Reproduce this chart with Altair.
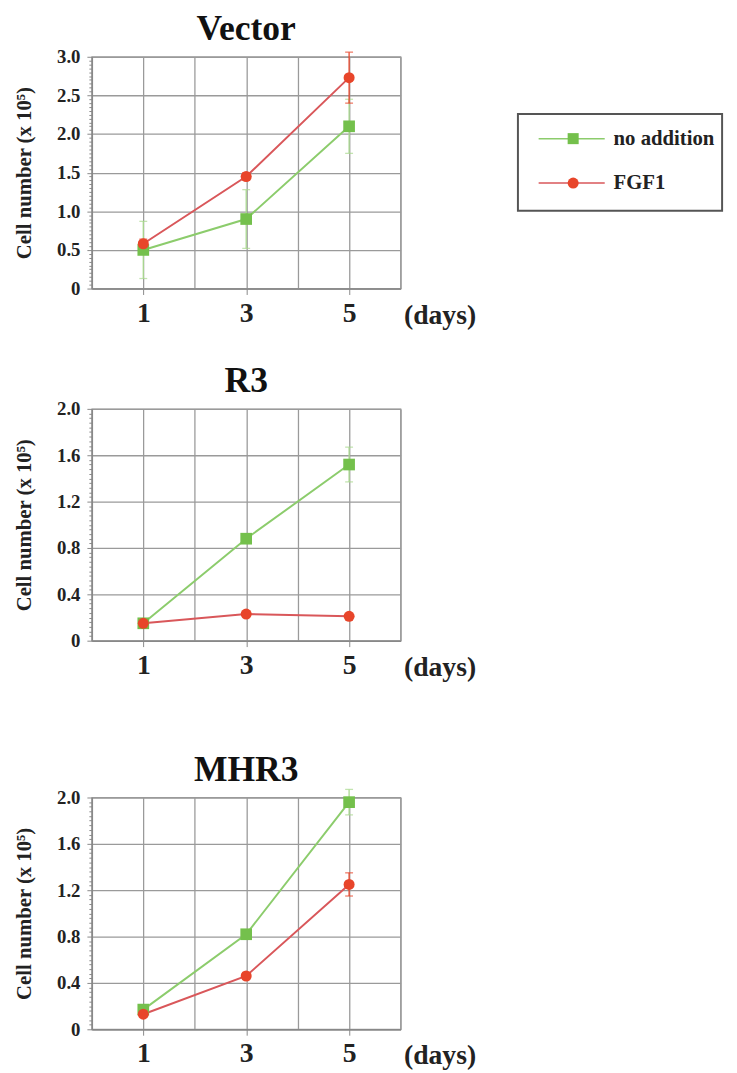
import altair as alt
import pandas as pd

days = [1, 3, 5]
series = ["no addition", "FGF1"]

vector_no = [0.50, 0.90, 2.10]
vector_no_err = [0.37, 0.38, 0.35]
vector_fgf = [0.58, 1.45, 2.73]
vector_fgf_err = [0.06, 0.05, 0.33]

r3_no = [0.15, 0.88, 1.52]
r3_no_err = [0.03, 0.03, 0.15]
r3_fgf = [0.15, 0.23, 0.21]
r3_fgf_err = [0.02, 0.02, 0.02]

mhr3_no = [0.17, 0.82, 1.96]
mhr3_no_err = [0.03, 0.04, 0.11]
mhr3_fgf = [0.13, 0.46, 1.25]
mhr3_fgf_err = [0.02, 0.03, 0.10]

x_ticks = [0, 1, 2, 3, 4, 5, 6]
x_labels = [1, 3, 5]

GREEN = "#74c04c"
GREEN_LINE = "#8ccc6c"
GREEN_ERR = "#a9d98f"
RED = "#e8452a"
RED_LINE = "#d9575a"
SERIF = "Liberation Serif"
GRID = "#9a9a9a"

color_scale = alt.Scale(domain=series, range=[GREEN_LINE, RED_LINE])
fill_scale = alt.Scale(domain=series, range=[GREEN, RED])
shape_scale = alt.Scale(domain=series, range=["square", "circle"])

PW, PH = 313, 235


def legend_layers():
    leg_df = pd.DataFrame({"series": series})
    ly = alt.Y("series:N", scale=alt.Scale(domain=series, type="point", range=[83, 128], padding=0), axis=None)
    lbase = alt.Chart(leg_df).encode(y=ly)
    box = alt.Chart(pd.DataFrame({"box": [0]})).mark_rect(
        filled=False, stroke="#555", strokeWidth=2
    ).encode(x=alt.value(432), x2=alt.value(639), y=alt.value(58), y2=alt.value(156))
    l_rule = lbase.mark_rule(strokeWidth=1.5).encode(
        x=alt.value(453), x2=alt.value(520),
        color=alt.Color("series:N", scale=color_scale, legend=None),
    )
    l_pts = lbase.mark_point(filled=True, opacity=1).encode(
        x=alt.value(488),
        fill=alt.Fill("series:N", scale=fill_scale, legend=None),
        shape=alt.Shape("series:N", scale=shape_scale, legend=None),
        size=alt.value(125),
    )
    l_txt = lbase.mark_text(align="left", baseline="middle", font=SERIF, fontSize=21,
                            fontWeight="bold", color="#222").encode(x=alt.value(529), text="series:N")
    return alt.layer(box, l_rule, l_pts, l_txt)


def panel(title, no, no_err, fgf, fgf_err, ymax, major, with_legend=False):
    df = pd.DataFrame({
        "day": days * 2,
        "series": [s for s in series for _ in days],
        "value": no + fgf,
        "err": no_err + fgf_err,
    })
    minor = major / 10
    yticks = [round(i * minor, 4) for i in range(int(round(ymax / minor)) + 1)]
    test = f"abs(datum.value/{major} - round(datum.value/{major})) < 0.001"
    yaxis = alt.Axis(
        values=yticks,
        title="Cell number (x 10\u2075)",
        titleFont=SERIF, titleFontSize=21, titleFontWeight="bold", titleColor="#222",
        titlePadding=22,
        labelExpr=f"({test}) ? (datum.value == 0 ? '0' : format(datum.value, '.1f')) : ''",
        labelFont=SERIF, labelFontSize=19, labelFontWeight="bold", labelColor="#222",
        labelPadding=7,
        gridOpacity={"condition": {"test": test, "value": 1}, "value": 0},
        tickSize={"condition": {"test": test, "value": 5}, "value": 3},
        tickColor="#888", tickWidth=1,
        gridColor=GRID, gridWidth=1.3,
        domainColor="#888", domainWidth=1.5,
    )
    xaxis = alt.Axis(
        values=x_ticks,
        labelExpr=f"indexof({x_labels}, datum.value) >= 0 ? datum.label : ''",
        labelFont=SERIF, labelFontSize=28, labelFontWeight="bold", labelColor="#222",
        labelPadding=5,
        tickOpacity={"condition": {"test": f"indexof({x_labels}, datum.value) >= 0", "value": 1}, "value": 0},
        tickSize=6, tickColor="#888",
        gridColor=GRID, gridWidth=1.3,
        domainColor="#888", domainWidth=1.5,
        title="(days)", titleFont=SERIF, titleFontSize=28, titleFontWeight="bold", titleColor="#222",
        titleAngle=0, titleX=PW + 3, titleY=27, titleAlign="left", titleBaseline="middle",
    )
    xenc = alt.X("day:Q", scale=alt.Scale(domain=[0, 6], nice=False), axis=xaxis)
    yenc = alt.Y("value:Q", scale=alt.Scale(domain=[0, ymax], nice=False), axis=yaxis)
    base = alt.Chart(df).encode(x=xenc, y=yenc)

    err_no = base.transform_filter(alt.datum.series == series[0]).mark_errorbar(
        ticks=True, color=GREEN_ERR, thickness=1.3, size=8
    ).encode(yError=alt.YError("err:Q"))
    err_fgf = base.transform_filter(alt.datum.series == series[1]).mark_errorbar(
        ticks=True, color=RED, thickness=1.3, size=8
    ).encode(yError=alt.YError("err:Q"))
    lines = base.mark_line(strokeWidth=2).encode(
        color=alt.Color("series:N", scale=color_scale, legend=None),
        detail="series:N",
    )
    pts = base.mark_point(filled=True, opacity=1).encode(
        fill=alt.Fill("series:N", scale=fill_scale, legend=None),
        shape=alt.Shape("series:N", scale=shape_scale, legend=None),
        size=alt.condition(alt.datum.series == series[0], alt.value(140), alt.value(125)),
    )
    main = alt.layer(err_no, err_fgf, lines, pts)
    if with_legend:
        main = alt.layer(main, legend_layers()).resolve_scale(y="independent")
    return main.properties(
        width=PW, height=PH,
        title=alt.TitleParams(title, font=SERIF, fontSize=36, fontWeight="bold", color="#111", offset=0),
        view=alt.ViewBackground(stroke=GRID, strokeWidth=1.3),
    )


p1 = panel("Vector", vector_no, vector_no_err, vector_fgf, vector_fgf_err, 3.0, 0.5, with_legend=True)
p2 = panel("R3", r3_no, r3_no_err, r3_fgf, r3_fgf_err, 2.0, 0.4)
p3 = panel("MHR3", mhr3_no, mhr3_no_err, mhr3_fgf, mhr3_fgf_err, 2.0, 0.4)

chart = alt.vconcat(alt.vconcat(p1, p2, spacing=33), p3, spacing=70).properties(
    padding={"left": 5, "top": -5, "right": 5, "bottom": 5}
).configure_view(stroke=GRID)

chart.save("out.html", embed_options={"renderer": "svg", "actions": False})
